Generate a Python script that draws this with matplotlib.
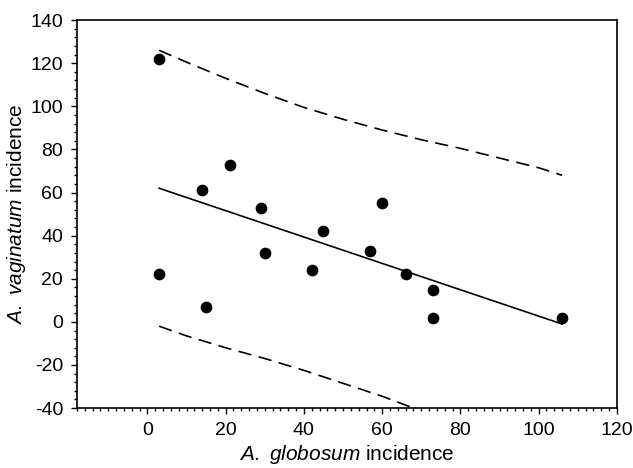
import matplotlib.pyplot as plt
from matplotlib.ticker import MultipleLocator

plt.rcParams["font.family"] = ["Liberation Sans", "DejaVu Sans"]
plt.rcParams["mathtext.fontset"] = "custom"
plt.rcParams["mathtext.it"] = "Liberation Sans:italic"
plt.rcParams["mathtext.rm"] = "Liberation Sans"
plt.rcParams["axes.unicode_minus"] = False

# observed incidences
globosum = [3, 3, 14, 15, 21, 29, 30, 42, 45, 57, 60, 66, 73, 73, 106]
vaginatum = [122, 22, 61, 7, 73, 53, 32, 24, 42, 33, 55, 22, 15, 2, 2]

# fitted regression line (end points)
fit_x = [3, 106]
fit_y = [62, -1]

# prediction band
upper_x = [3, 10, 20, 30, 40, 50, 60, 70, 80, 90, 100, 106]
upper_y = [126, 120.5, 113, 106, 99.5, 94, 89, 84.5, 80.5, 76, 71.5, 68]
lower_x = [3, 10, 20, 30, 40, 50, 60, 68]
lower_y = [-2, -6.5, -12, -17, -22.5, -28.5, -34.5, -40]

fig = plt.figure(figsize=(6.33, 4.68), dpi=100)
ax = fig.add_axes([0.1216, 0.128, 0.853, 0.829])

ax.plot(upper_x, upper_y, color="black", lw=1.2, ls=(0, (8, 4.5)))
ax.plot(lower_x, lower_y, color="black", lw=1.2, ls=(0, (8, 4.5)))
ax.plot(fit_x, fit_y, color="black", lw=1.2)
ax.scatter(globosum, vaginatum, s=55, color="black", zorder=3)

ax.set_xlim(-18, 120)
ax.set_ylim(-40, 140)
ax.set_xticks([0, 20, 40, 60, 80, 100, 120])
ax.xaxis.set_minor_locator(MultipleLocator(2))
ax.yaxis.set_major_locator(MultipleLocator(20))
ax.yaxis.set_minor_locator(MultipleLocator(4))
ax.set_xlim(-18, 120)

ax.tick_params(which="major", direction="out", length=4, width=1, labelsize=14, pad=6)
ax.tick_params(which="minor", direction="out", length=2.5, width=1)
ax.tick_params(top=False, right=False, which="both")
for s in ax.spines.values():
    s.set_linewidth(1.2)

ax.set_xlabel(r"$\it{A.}$ $\it{globosum}$ incidence", fontsize=15, labelpad=3)
ax.set_ylabel(r"$\it{A.}$ $\it{vaginatum}$ incidence", fontsize=15, labelpad=2)

fig.savefig("out.png", dpi=100)
